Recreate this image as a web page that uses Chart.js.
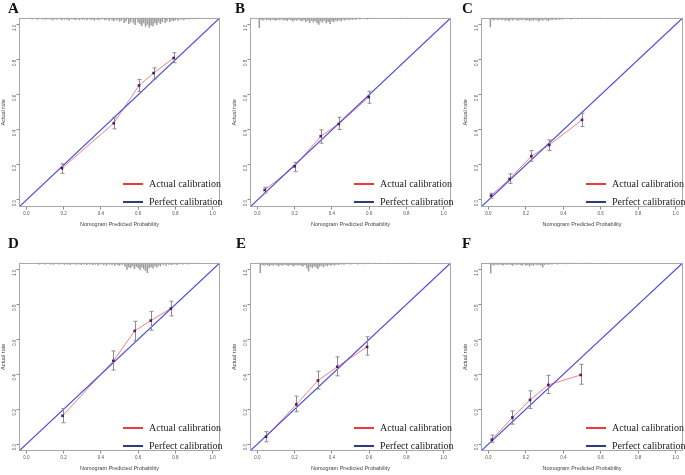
<!DOCTYPE html>
<html><head><meta charset="utf-8">
<script src="https://cdn.jsdelivr.net/npm/chart.js@4.4.1/dist/chart.umd.min.js"></script>
<style>
html,body{margin:0;padding:0;background:#fff;width:685px;height:475px;overflow:hidden;position:relative}
canvas{position:absolute}
.lbl{position:absolute;font-family:'Liberation Serif','Times New Roman',serif;font-weight:bold;font-size:15px;line-height:15px;color:#111}
.leg{position:absolute;font-family:'Liberation Serif','Times New Roman',serif;font-size:10px;line-height:10px;height:10px;color:#222;white-space:nowrap}
.leg span{display:inline-block;width:20px;height:2px;vertical-align:middle;margin-right:6px;position:relative;top:-1px}
</style></head><body>
<script>
// ---------- data ----------
const tickValues = [0, 0.2, 0.4, 0.6, 0.8, 1.0];
const axisLimits = [-0.04, 1.04];
const panelLetters = ['A', 'B', 'C', 'D', 'E', 'F'];
const legendLabels = ['Actual calibration', 'Perfect calibration'];
const xTitle = 'Nomogram Predicted Probability';
const yTitle = 'Actual rate';

const predA = [0.191, 0.469, 0.605, 0.683, 0.791];
const actualA = [0.181, 0.438, 0.653, 0.724, 0.810];
const lowA = [0.152, 0.406, 0.619, 0.690, 0.783];
const highA = [0.206, 0.472, 0.688, 0.754, 0.840];

const predB = [0.039, 0.200, 0.340, 0.437, 0.598];
const actualB = [0.057, 0.192, 0.364, 0.434, 0.587];
const lowB = [0.040, 0.162, 0.324, 0.402, 0.552];
const highB = [0.072, 0.215, 0.400, 0.472, 0.621];

const predC = [0.014, 0.113, 0.229, 0.325, 0.500];
const actualC = [0.025, 0.120, 0.250, 0.314, 0.457];
const lowC = [0.010, 0.095, 0.221, 0.282, 0.419];
const highC = [0.038, 0.149, 0.282, 0.343, 0.495];

const predD = [0.194, 0.467, 0.582, 0.668, 0.776];
const actualD = [0.162, 0.477, 0.649, 0.708, 0.777];
const lowD = [0.122, 0.424, 0.592, 0.653, 0.735];
const highD = [0.204, 0.534, 0.704, 0.761, 0.819];

const predE = [0.046, 0.209, 0.325, 0.429, 0.589];
const actualE = [0.042, 0.227, 0.364, 0.443, 0.557];
const lowE = [0.013, 0.185, 0.315, 0.391, 0.510];
const highE = [0.071, 0.275, 0.418, 0.500, 0.615];

const predF = [0.018, 0.128, 0.222, 0.320, 0.493];
const actualF = [0.025, 0.152, 0.253, 0.339, 0.396];
const lowF = [0.010, 0.114, 0.204, 0.290, 0.343];
const highF = [0.051, 0.190, 0.305, 0.394, 0.457];

// rug (distribution of predicted probabilities): [position, spike length]
const rugA = [[0.02,.006],[0.03,.008],[0.045,.006],[0.06,.01],[0.07,.006],[0.085,.008],[0.1,.01],[0.11,.007],[0.125,.009],[0.14,.012],[0.15,.008],[0.165,.01],[0.18,.007],[0.19,.012],[0.205,.009],[0.22,.01],[0.23,.014],[0.245,.008],[0.26,.011],[0.27,.009],[0.285,.012],[0.3,.008],[0.31,.01],[0.325,.013],[0.34,.009],[0.35,.011],[0.365,.015],[0.38,.01],[0.39,.012],[0.405,.009],[0.42,.013],[0.43,.011],[0.445,.016],[0.46,.012],[0.47,.018],[0.485,.014],[0.5,.02],[0.51,.016],[0.525,.028],[0.535,.02],[0.55,.034],[0.56,.024],[0.575,.03],[0.585,.04],[0.6,.026],[0.61,.036],[0.62,.045],[0.63,.03],[0.64,.05],[0.65,.038],[0.66,.055],[0.67,.042],[0.68,.048],[0.69,.03],[0.7,.04],[0.71,.026],[0.72,.034],[0.73,.022],[0.745,.028],[0.755,.018],[0.77,.022],[0.78,.014],[0.79,.018],[0.8,.012],[0.815,.015],[0.83,.01],[0.845,.012],[0.86,.008],[0.875,.009],[0.89,.006],[0.905,.007],[0.92,.005],[0.93,.005]];
const rugB = [[0.01,.057],[0.02,.01],[0.03,.014],[0.04,.008],[0.05,.012],[0.06,.01],[0.07,.015],[0.08,.009],[0.09,.012],[0.1,.016],[0.11,.01],[0.12,.013],[0.13,.009],[0.14,.014],[0.15,.011],[0.16,.017],[0.17,.01],[0.18,.013],[0.19,.02],[0.2,.012],[0.21,.015],[0.22,.01],[0.23,.014],[0.24,.018],[0.25,.012],[0.26,.022],[0.27,.015],[0.28,.028],[0.29,.016],[0.3,.024],[0.31,.018],[0.32,.03],[0.33,.038],[0.34,.02],[0.35,.026],[0.36,.016],[0.37,.03],[0.38,.022],[0.39,.034],[0.4,.018],[0.41,.024],[0.42,.014],[0.43,.02],[0.44,.012],[0.45,.018],[0.46,.01],[0.47,.014],[0.48,.009],[0.49,.012],[0.5,.008],[0.51,.011],[0.52,.007],[0.53,.01],[0.54,.006],[0.55,.009],[0.57,.006],[0.59,.008],[0.61,.005],[0.63,.006],[0.65,.005],[0.68,.005],[0.71,.004],[0.74,.005],[0.77,.004],[0.8,.004],[0.84,.004],[0.88,.003]];
const rugC = [[0.01,.053],[0.02,.01],[0.03,.014],[0.04,.008],[0.05,.012],[0.06,.009],[0.07,.013],[0.08,.01],[0.09,.015],[0.1,.011],[0.11,.018],[0.12,.01],[0.13,.014],[0.14,.009],[0.15,.012],[0.16,.016],[0.17,.01],[0.18,.013],[0.19,.009],[0.2,.015],[0.21,.011],[0.22,.018],[0.23,.012],[0.24,.016],[0.25,.01],[0.26,.014],[0.27,.02],[0.28,.011],[0.29,.015],[0.3,.009],[0.31,.013],[0.32,.017],[0.33,.01],[0.34,.012],[0.35,.008],[0.36,.011],[0.37,.007],[0.38,.01],[0.39,.007],[0.4,.009],[0.42,.006],[0.44,.008],[0.46,.005],[0.48,.007],[0.5,.005],[0.52,.006],[0.54,.004],[0.56,.005],[0.58,.004],[0.6,.004]];
const rugD = [[0.06,.006],[0.07,.008],[0.085,.006],[0.1,.009],[0.115,.006],[0.13,.008],[0.145,.01],[0.16,.006],[0.175,.009],[0.19,.007],[0.205,.01],[0.22,.008],[0.235,.011],[0.25,.007],[0.265,.01],[0.28,.008],[0.295,.012],[0.31,.009],[0.325,.011],[0.34,.008],[0.355,.012],[0.37,.01],[0.385,.014],[0.4,.009],[0.415,.012],[0.43,.015],[0.445,.01],[0.46,.013],[0.475,.016],[0.49,.011],[0.5,.015],[0.515,.012],[0.53,.02],[0.54,.038],[0.55,.024],[0.56,.03],[0.57,.018],[0.58,.034],[0.59,.022],[0.6,.028],[0.61,.04],[0.62,.026],[0.63,.034],[0.64,.045],[0.65,.057],[0.66,.03],[0.67,.024],[0.68,.032],[0.69,.018],[0.7,.025],[0.71,.015],[0.72,.02],[0.735,.012],[0.75,.016],[0.765,.01],[0.78,.013],[0.795,.008],[0.81,.011],[0.825,.007],[0.84,.009],[0.855,.006],[0.87,.008],[0.885,.005],[0.9,.006],[0.92,.004]];
const rugE = [[0.015,.057],[0.025,.012],[0.035,.016],[0.045,.01],[0.055,.014],[0.065,.018],[0.075,.011],[0.085,.015],[0.095,.01],[0.105,.014],[0.115,.018],[0.125,.011],[0.135,.015],[0.145,.01],[0.155,.013],[0.165,.017],[0.175,.011],[0.185,.014],[0.195,.02],[0.205,.012],[0.215,.016],[0.225,.011],[0.235,.015],[0.245,.02],[0.255,.013],[0.265,.03],[0.275,.048],[0.285,.022],[0.295,.03],[0.305,.018],[0.315,.026],[0.325,.034],[0.335,.02],[0.345,.016],[0.355,.024],[0.365,.014],[0.375,.018],[0.385,.012],[0.395,.016],[0.405,.01],[0.415,.014],[0.425,.009],[0.435,.012],[0.45,.008],[0.465,.01],[0.48,.007],[0.5,.009],[0.52,.006],[0.54,.008],[0.56,.005],[0.58,.007],[0.6,.005],[0.63,.005],[0.66,.004],[0.7,.004],[0.74,.004],[0.78,.003],[0.82,.003],[0.85,.003]];
const rugF = [[0.012,.06],[0.02,.01],[0.03,.014],[0.04,.009],[0.05,.012],[0.06,.008],[0.07,.011],[0.08,.014],[0.09,.009],[0.1,.012],[0.11,.008],[0.12,.011],[0.13,.015],[0.14,.009],[0.15,.012],[0.16,.008],[0.17,.011],[0.18,.014],[0.19,.009],[0.2,.016],[0.21,.011],[0.22,.02],[0.23,.012],[0.24,.015],[0.25,.009],[0.26,.013],[0.27,.01],[0.28,.014],[0.29,.026],[0.3,.011],[0.31,.007],[0.32,.01],[0.33,.007],[0.34,.009],[0.35,.006],[0.37,.008],[0.39,.006],[0.41,.007],[0.43,.005],[0.45,.006],[0.47,.004],[0.49,.005],[0.52,.004],[0.55,.004],[0.58,.003],[0.61,.003]];

// ---------- layout (page pixels of each plot box) ----------
const colBox = [[19, 220], [250, 451], [481, 683]];
const rowBox = [[17, 207], [262, 451]];
const letterPos = [[8, 1], [235, 1], [462, 1], [8, 236], [236, 236], [462, 236]];

const panels = [
  {pred: predA, act: actualA, lo: lowA, hi: highA, rug: rugA},
  {pred: predB, act: actualB, lo: lowB, hi: highB, rug: rugB},
  {pred: predC, act: actualC, lo: lowC, hi: highC, rug: rugC},
  {pred: predD, act: actualD, lo: lowD, hi: highD, rug: rugD},
  {pred: predE, act: actualE, lo: lowE, hi: highE, rug: rugE},
  {pred: predF, act: actualF, lo: lowF, hi: highF, rug: rugF}
];

const Y_AXIS_W = 19, X_AXIS_H = 21, PAD_T = 4, PAD_R = 3;

const errorBarPlugin = {
  id: 'errbars',
  afterDatasetsDraw(chart, args, opts) {
    const {ctx, scales: {x, y}} = chart;
    const p = opts.panel;
    ctx.save();
    ctx.strokeStyle = '#8c8c8c';
    ctx.lineWidth = 1;
    p.pred.forEach((v, i) => {
      const px = Math.round(x.getPixelForValue(v)) + 0.5;
      const y1 = y.getPixelForValue(p.lo[i]);
      const y2 = y.getPixelForValue(p.hi[i]);
      ctx.beginPath();
      ctx.moveTo(px, y1); ctx.lineTo(px, y2);
      ctx.moveTo(px - 2, y1); ctx.lineTo(px + 2, y1);
      ctx.moveTo(px - 2, y2); ctx.lineTo(px + 2, y2);
      ctx.stroke();
    });
    const meta = chart.getDatasetMeta(1);
    ctx.fillStyle = '#5b1466';
    meta.data.forEach(pt => { ctx.fillRect(pt.x - 1.3, pt.y - 1.3, 2.6, 2.6); });
    ctx.restore();
  }
};

const framePlugin = {
  id: 'frame',
  afterDraw(chart) {
    const {ctx, chartArea: a} = chart;
    ctx.save();
    ctx.strokeStyle = '#a8a8a8';
    ctx.lineWidth = 1;
    ctx.strokeRect(Math.round(a.left) + 0.5, Math.round(a.top) + 0.5, Math.round(a.right - a.left) - 1, Math.round(a.bottom - a.top) - 1);
    ctx.restore();
  }
};

const tickFont = {family: "'Liberation Sans Narrow','Liberation Sans',Arial,sans-serif", size: 4.5};
const titleFont = {family: "'Liberation Sans Narrow','Liberation Sans',Arial,sans-serif", size: 5.5};

panels.forEach((p, k) => {
  const col = colBox[k % 3], row = rowBox[Math.floor(k / 3)];
  const cv = document.createElement('canvas');
  const w = col[1] - col[0] + Y_AXIS_W + PAD_R;
  const h = row[1] - row[0] + X_AXIS_H + PAD_T;
  cv.width = w; cv.height = h;
  cv.style.left = (col[0] - Y_AXIS_W) + 'px';
  cv.style.top = (row[0] - PAD_T) + 'px';
  cv.style.width = w + 'px'; cv.style.height = h + 'px';
  document.body.appendChild(cv);

  const lbl = document.createElement('div');
  lbl.className = 'lbl';
  lbl.textContent = panelLetters[k];
  lbl.style.left = letterPos[k][0] + 'px';
  lbl.style.top = letterPos[k][1] + 'px';
  document.body.appendChild(lbl);

  const legColors = ['#f03a3a', '#2c3c7c'];
  legendLabels.forEach((t, j) => {
    const d = document.createElement('div');
    d.className = 'leg';
    d.style.left = (col[1] - 97) + 'px';
    d.style.top = (row[1] - (j === 0 ? 23 : 5) - 5) + 'px';
    const s = document.createElement('span');
    s.style.background = legColors[j];
    d.appendChild(s);
    d.appendChild(document.createTextNode(t));
    document.body.appendChild(d);
  });

  const axisCommon = (titleText) => ({
    type: 'linear',
    min: axisLimits[0], max: axisLimits[1],
    offset: false,
    afterBuildTicks: (ax) => { ax.ticks = tickValues.map(v => ({value: v})); },
    ticks: {font: tickFont, color: '#555', padding: 2, callback: (v) => Number(v).toFixed(1)},
    grid: {display: true, offset: false, drawOnChartArea: false, drawTicks: true, tickLength: 2.5, color: '#8a8a8a'},
    border: {display: false},
    title: {display: true, text: titleText, font: titleFont, color: '#444', padding: 0}
  });

  const xAxis = axisCommon(xTitle);
  xAxis.afterFit = (ax) => { ax.height = X_AXIS_H; };
  const yAxis = axisCommon(yTitle);
  yAxis.ticks.minRotation = 90; yAxis.ticks.maxRotation = 90;
  yAxis.afterFit = (ax) => { ax.width = Y_AXIS_W; };

  new Chart(cv, {
    type: 'scatter',
    data: {
      datasets: [
        {type: 'line', label: legendLabels[1],
         data: [{x: axisLimits[0], y: axisLimits[0]}, {x: axisLimits[1], y: axisLimits[1]}],
         borderColor: '#4a4ae4', borderWidth: 1.2, pointRadius: 0, order: 1},
        {type: 'line', label: legendLabels[0],
         data: p.pred.map((v, i) => ({x: v, y: p.act[i]})),
         borderColor: 'rgba(228,120,120,0.9)', borderWidth: 1, pointRadius: 0, order: 2},
        {type: 'bar', label: 'rug',
         data: p.rug.map(r => ({x: r[0], y: [axisLimits[1] - r[1], axisLimits[1]]})),
         backgroundColor: '#9e9e9e', barThickness: 0.9, borderWidth: 0, order: 3}
      ]
    },
    options: {
      responsive: false, animation: false, devicePixelRatio: 1,
      layout: {padding: {top: PAD_T, right: PAD_R, left: 0, bottom: 0}},
      plugins: {legend: {display: false}, tooltip: {enabled: false}, errbars: {panel: p}},
      scales: {x: xAxis, y: yAxis}
    },
    plugins: [errorBarPlugin, framePlugin]
  });
});
</script>
</body></html>
